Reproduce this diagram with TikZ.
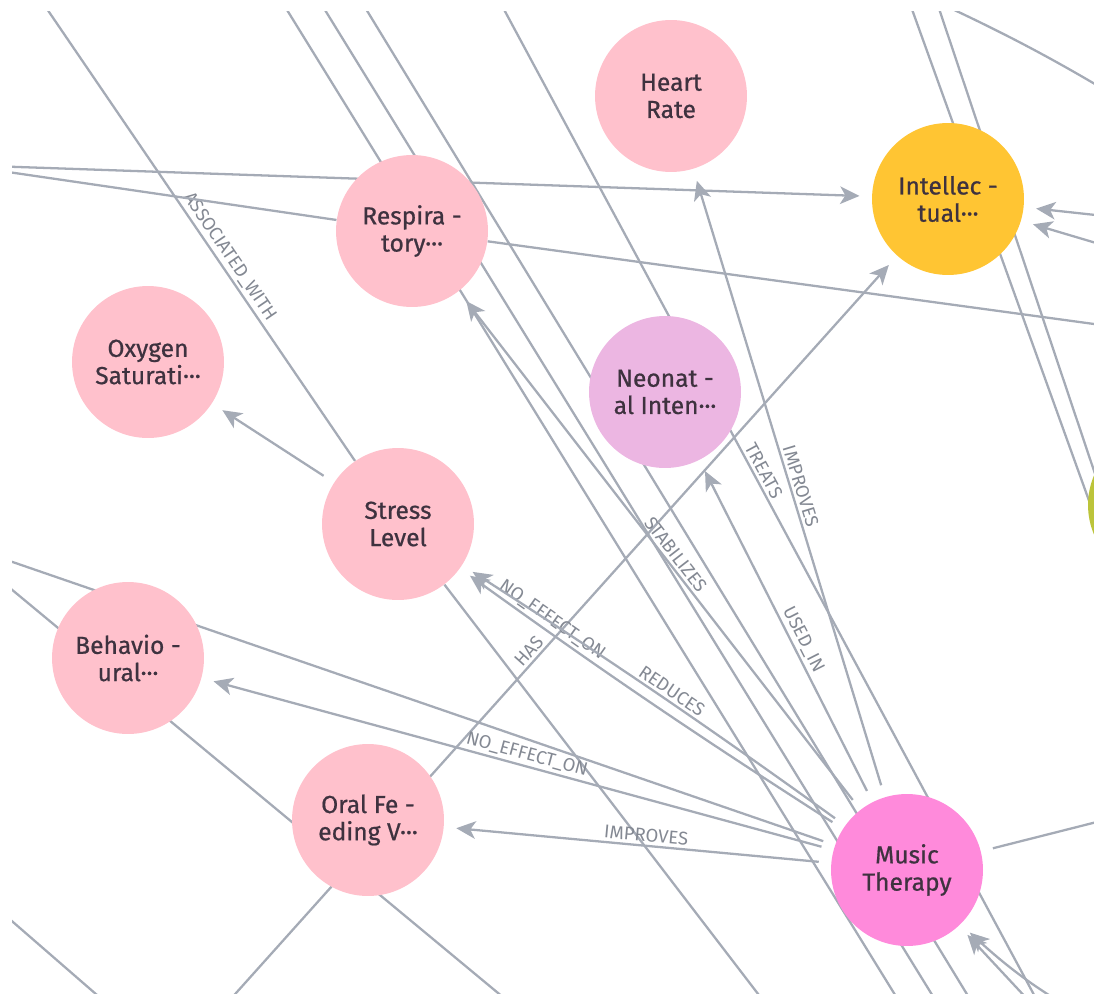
\documentclass[tikz,border=0pt]{standalone}
\usepackage{fontspec}
\setmainfont{Fira Sans}
\newfontfamily\conceptfont{Fira Sans}[FakeBold=0.7]
\usetikzlibrary{arrows.meta,backgrounds}
\definecolor{edgegray}{HTML}{A5ABB6}
\definecolor{lblgray}{HTML}{848993}
\definecolor{nodetext}{HTML}{3E323F}
\definecolor{pinknode}{HTML}{FFC1CC}
\definecolor{goldnode}{HTML}{FFC533}
\definecolor{orchidnode}{HTML}{ECB6E2}
\definecolor{musicnode}{HTML}{FF8ADB}
\definecolor{olivenode}{HTML}{BCC43A}
\tikzset{
  concept/.style={circle, minimum size=3.04cm, inner sep=0pt, align=center,
    text=nodetext, font=\conceptfont\fontsize{14}{15.5}\selectfont, fill=pinknode},
  rel/.style={draw=edgegray, line width=1.3pt, shorten >=7pt, shorten <=7pt},
  pass/.style={draw=edgegray, line width=1.3pt},
  hd/.style={-{Stealth[length=11pt,width=10pt,inset=3pt]}},
  lbl/.style={sloped, above, inner sep=1.5pt, text=lblgray,
    font=\fontsize{10.5}{12}\selectfont},
}
\begin{document}
\begin{tikzpicture}[x=0.02cm, y=-0.02cm]
\useasboundingbox (0,0) rectangle (1094,993);
\begin{scope}
\clip (12,12) rectangle (1094,993);
% concepts
\node[concept] (hr) at (671,96) {Heart\\Rate};
\node[concept, fill=goldnode] (intel) at (948,199) {Intellec -\\tual···};
\node[concept] (resp) at (412,231) {Respira -\\tory···};
\node[concept] (oxy) at (148,362) {Oxygen\\Saturati···};
\node[concept, fill=orchidnode] (neo) at (665,392) {Neonat -\\al Inten···};
\node[concept] (stress) at (398,524) {Stress\\Level};
\node[concept] (behav) at (128,658) {Behavio -\\ural···};
\node[concept] (oral) at (368,820) {Oral Fe -\\eding V···};
\node[concept, fill=musicnode] (music) at (907,870) {Music\\Therapy};
\node[concept, fill=olivenode] (green) at (1164,505) {};
\end{scope}

% ends of links to concepts outside the view
\coordinate (offTL1) at (0,-60);    \coordinate (offB1) at (801,1050);
\coordinate (offL1) at (-60,537);
\coordinate (offL2) at (-60,530);   \coordinate (offB2) at (580,1061);
\coordinate (offBLa) at (-40,876);  \coordinate (offBLb) at (150,1041);
\coordinate (offB3) at (176,1060);
\coordinate (offL3) at (-40,165);   \coordinate (offR1) at (1160,333);
\coordinate (offT1) at (250,-50);   \coordinate (offB1b) at (926,1045);
\coordinate (offT2) at (288,-50);   \coordinate (offB2b) at (963,1045);
\coordinate (offT3) at (330,-50);   \coordinate (offB3b) at (1001,1050);
\coordinate (offT4) at (472,-50);   \coordinate (offB4) at (1061,1045);
\coordinate (offT6) at (887,-60);   \coordinate (offB6) at (1132,620);
\coordinate (offT7) at (916,-60);   \coordinate (offB7) at (1144,620);
\coordinate (offT8) at (900,-15);   \coordinate (offR8) at (1170,130);
\coordinate (offR9) at (1160,222);  \coordinate (offR10) at (1160,262);
\coordinate (offR11) at (1160,806);
\coordinate (offB12) at (1070,1045); \coordinate (offB13) at (1130,1040);

\begin{scope}[on background layer]
\clip (12,12) rectangle (1094,993);
% links that run under the concepts
\draw[pass] (offTL1) -- node[lbl, pos=0.62] {ASSOCIATED\_WITH} (stress);
\draw[pass] (stress) -- (offB1);
\draw[pass] (offL2) -- (offB2);
\draw[pass] (offBLa) -- (offBLb);
\draw[pass, hd, shorten >=7pt] (offB3) -- node[lbl, pos=0.5] {HAS} (intel);
\draw[pass, hd, shorten >=7pt] (offL3) -- (intel);
\draw[pass] (offL3) -- (resp) -- (offR1);
\draw[pass] (offT1) -- (offB1b);
\draw[pass] (offT2) -- (offB2b);
\draw[pass] (offT3) -- (offB3b);
\draw[pass] (offT4) -- node[lbl, pos=0.48] {TREATS} (offB4);
\draw[pass] (offT6) -- (offB6);
\draw[pass] (offT7) -- (offB7);
\draw[pass] (offT8) to[bend left=4] (offR8);
\draw[pass, hd, shorten >=7pt] (offR9) -- (intel);
\draw[pass, hd, shorten >=7pt] (offR10) -- (intel);
% links of music therapy
\draw[rel, shorten <=0pt] (offL1) -- (music);
\draw[rel, shorten >=0pt] (music) -- (offR11);
\draw[rel, hd, shorten <=0pt] (offB12) -- (music);
\draw[rel, hd, shorten <=0pt] (offB13) to[bend left=8] (music);
\draw[rel, hd] (stress) -- (oxy);
\draw[rel, hd] (music) to[bend left=1.5] node[lbl, pos=0.79] {NO\_EFFECT\_ON} (stress);
\draw[rel, hd] (music) to[bend right=1.5] node[lbl, pos=0.47] {REDUCES} (stress);
\draw[rel, hd] (music) -- node[lbl, pos=0.49] {NO\_EFFECT\_ON} (behav);
\draw[rel, hd] (music) -- node[lbl, pos=0.48] {IMPROVES} (oral);
\draw[rel, hd] (music) -- node[lbl, pos=0.48] {STABILIZES} (resp);
\draw[rel, hd] (music) -- node[lbl, pos=0.46] {USED\_IN} (neo);
\draw[rel, hd] (music) -- node[lbl, pos=0.49] {IMPROVES} (hr);
\end{scope}
\end{tikzpicture}
\end{document}
